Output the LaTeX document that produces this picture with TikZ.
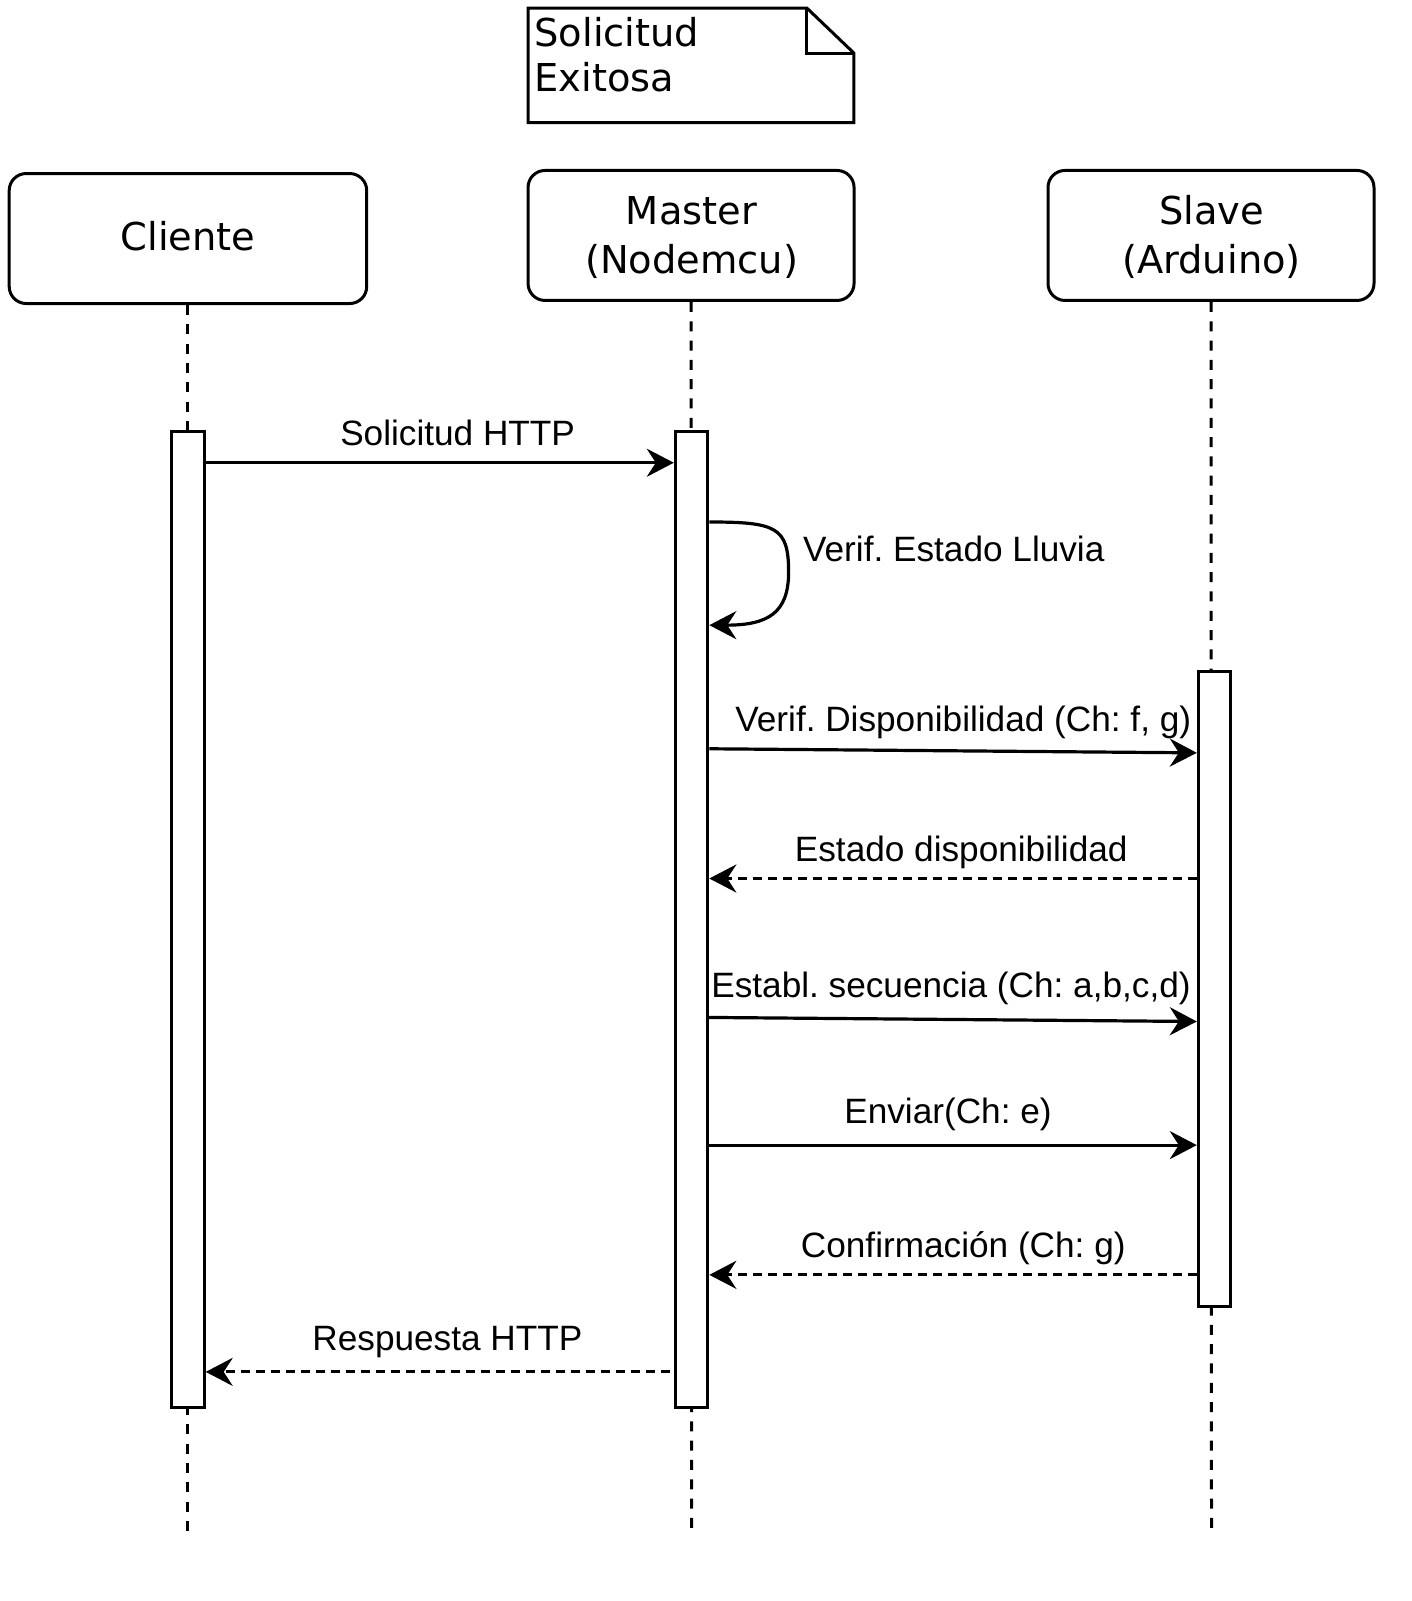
\documentclass[tikz,border=0pt]{standalone}
\usepackage{fontspec}
\setmainfont{Liberation Sans}
\newfontfamily\boxfont{DejaVu Sans}
\usetikzlibrary{arrows.meta,calc}
\frenchspacing
\begin{document}
\begin{tikzpicture}[x=1.0215pt,y=-1.0215pt,
  part/.style={draw,line width=3pt,rounded corners=17pt,minimum width=#1,minimum height=130pt,inner sep=0pt},
  ptxt/.style={anchor=base,inner sep=0pt,font=\boxfont\fontsize{38.4}{46}\selectfont},
  bar/.style={draw,line width=3pt,fill=white,minimum width=32.5pt,inner sep=0pt},
  life/.style={line width=3pt,dash pattern=on 10pt off 9.3pt},
  msg/.style={line width=3.2pt,-{Stealth[length=27pt,width=28pt,inset=9pt]}},
  ret/.style={msg,dash pattern=on 9pt off 6pt},
  lbl/.style={anchor=base,inner sep=0pt,font=\fontsize{35.2}{42}\selectfont}]
\useasboundingbox (0,0) rectangle (1381.3,1567.3);
% note
\draw[line width=3pt,line join=miter] (517,8) -- (790,8) -- (836,52) -- (836,120) -- (517,120) -- cycle;
\draw[line width=3pt] (790,8) -- (790,52) -- (836,52);
\node[ptxt,anchor=base west] (note) at (523,46) {Solicitud};
\node[ptxt,anchor=base west] (note2) at (523,90) {Exitosa};
% participants
\node[part=357.5pt] (cli) at (184,233.5) {};
\node[part=326pt] (mas) at (676.5,230.5) {};
\node[part=326pt] (sla) at (1185.5,230.5) {};
\node[ptxt] (clit) at (184,245) {Cliente};
\node[ptxt] (mast1) at (677,220) {Master};
\node[ptxt] (mast2) at (677,268) {(Nodemcu)};
\node[ptxt] (slat1) at (1186,220) {Slave};
\node[ptxt] (slat2) at (1186,268) {(Arduino)};
% lifeline ends
\coordinate (cend) at (184,1500);
\coordinate (mend) at (677,1500);
\coordinate (send) at (1186,1500);
\draw[life] (cli.south) -- (cend);
\draw[life] (mas.south) -- (mend);
\draw[life] (sla.south) -- (send);
% activation bars
\node[bar,minimum height=976pt] (cbar) at (184,900) {};
\node[bar,minimum height=976pt] (mbar) at (677,900) {};
\node[bar,minimum height=635pt] (sbar) at (1189,968) {};
% messages
\draw[msg] (cbar.east |- 0,453) -- (mbar.west |- 0,453);
\node[lbl] (l1) at (448,436) {Solicitud HTTP};
\draw[msg] (mbar.east |- 0,511) .. controls (760,511) and (772,516) .. (772,560) .. controls (772,600) and (752,612) .. (mbar.east |- 0,612);
\node[lbl,anchor=base west] (l2) at (786,550) {Verif. Estado Lluvia};
\draw[msg] (mbar.east |- 0,733) -- (sbar.west |- 0,737);
\node[lbl] (l3) at (943,716) {Verif. Disponibilidad (Ch: f, g)};
\draw[ret] (sbar.west |- 0,860) -- (mbar.east |- 0,860);
\node[lbl] (l4) at (941,843) {Estado disponibilidad};
\draw[msg] ([xshift=-2pt]mbar.east |- 0,996) -- (sbar.west |- 0,1000);
\node[lbl] (l5) at (931,976) {Establ. secuencia (Ch: a,b,c,d)};
\draw[msg] (mbar.east |- 0,1121) -- (sbar.west |- 0,1121);
\node[lbl] (l6) at (928,1100) {Enviar(Ch: e)};
\draw[ret] (sbar.west |- 0,1248) -- (mbar.east |- 0,1248);
\node[lbl] (l7) at (943,1231) {Confirmación (Ch: g)};
\draw[ret] ([xshift=-4pt]mbar.west |- 0,1343) -- (cbar.east |- 0,1343);
\node[lbl] (l8) at (438,1322) {Respuesta HTTP};
\end{tikzpicture}
\end{document}
